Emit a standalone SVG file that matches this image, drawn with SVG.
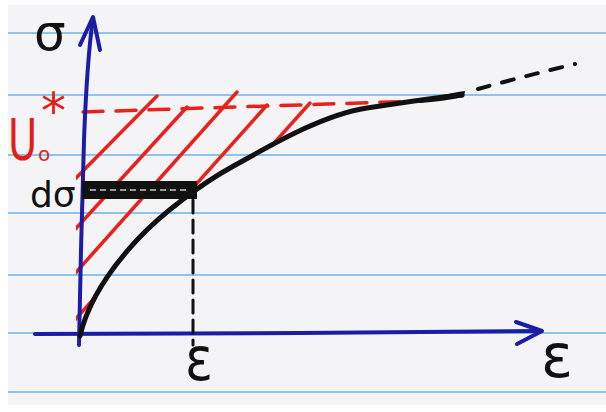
<svg xmlns="http://www.w3.org/2000/svg" width="606" height="412" viewBox="0 0 606 412">
  <defs>
    <style>
      .rule { stroke: #8ec4ec; stroke-width: 2; fill: none; }
      .axis { stroke: #1c1ca6; stroke-width: 4; fill: none; stroke-linecap: round; stroke-linejoin: round; }
      .hatch { stroke: #e8211c; stroke-width: 3.5; fill: none; stroke-linecap: round; }
      .ink { stroke: #111111; fill: none; stroke-linecap: round; stroke-linejoin: round; }
      .lbl { font-family: "DejaVu Sans", "Liberation Sans", sans-serif; fill: #111111; }
      .red { fill: #e21e1a; }
    </style>
    <clipPath id="area">
      <path d="M76,86 L470,86 L462,95 C440,97 400,103 367,108 C320,115 263,150 230,168 C203,183 162,213 137,240 C100,280 86,310 80,336 L76,336 Z"/>
    </clipPath>
  </defs>

  <!-- paper -->
  <rect x="0" y="0" width="606" height="412" fill="#ffffff"/>
  <rect x="8" y="5" width="598" height="400" fill="#f4f4f6"/>
  <g id="ruling">
    <line class="rule" x1="8" y1="33" x2="606" y2="33"/>
    <line class="rule" x1="8" y1="95" x2="606" y2="95"/>
    <line class="rule" x1="8" y1="155" x2="606" y2="155"/>
    <line class="rule" x1="8" y1="213" x2="606" y2="213"/>
    <line class="rule" x1="8" y1="275" x2="606" y2="275"/>
    <line class="rule" x1="8" y1="333" x2="606" y2="333"/>
    <line class="rule" x1="8" y1="392" x2="606" y2="392"/>
  </g>

  <!-- red hatching of the complementary energy area -->
  <g id="hatching" clip-path="url(#area)">
    <line class="hatch" x1="70" y1="184" x2="157" y2="96"/>
    <line class="hatch" x1="70" y1="235" x2="187" y2="107"/>
    <line class="hatch" x1="70" y1="279" x2="237" y2="92"/>
    <line class="hatch" x1="72" y1="323" x2="267" y2="105"/>
    <line class="hatch" x1="240" y1="181" x2="310" y2="103"/>
  </g>
  <g id="u0-line">
    <path class="hatch" d="M83,112 L420,101" stroke-width="4" stroke-dasharray="20 13"/>
  </g>

  <!-- axes -->
  <g id="axes">
    <path class="axis" d="M79,345 L81,250 L84,140 Q87,60 93,18"/>
    <polyline class="axis" points="80,45 93,17 100,50"/>
    <path class="axis" d="M35,334 L300,333 L540,331"/>
    <polyline class="axis" points="516,322 542,331 517,344"/>
  </g>

  <!-- stress-strain curve -->
  <g id="curve">
    <path class="ink" stroke-width="5" d="M80,336 C86,310 100,280 137,240 C162,213 203,183 230,168 C263,150 320,115 367,108 C400,103 440,97 462,95"/>
    <path d="M420,100 C440,96 455,92 465,91 L464,97 C450,100 435,102 420,103 Z" fill="#111111"/>
    <path class="ink" stroke-width="4" stroke-dasharray="12 13" d="M478,89 Q525,76 575,64"/>
  </g>

  <!-- d-sigma strip -->
  <g id="dsigma-strip">
    <rect x="82" y="181" width="115" height="18" fill="#111111"/>
    <line x1="90" y1="190" x2="190" y2="190" stroke="#9a9a9a" stroke-width="1.8" stroke-dasharray="6 4"/>
  </g>

  <!-- epsilon drop line -->
  <g id="eps-line">
    <path class="ink" stroke-width="3" stroke-dasharray="13 7" d="M193,200 L193,345"/>
  </g>

  <!-- labels -->
  <g id="labels">
    <text class="lbl" x="34" y="50" font-size="50">σ</text>
    <g id="u0-label">
      <text class="lbl red" font-size="40" transform="translate(8,160) scale(1,1.42)">U</text>
      <text class="lbl red" x="38" y="161" font-size="20">o</text>
      <text class="lbl red" x="41" y="128" font-size="50">*</text>
    </g>
    <text class="lbl" x="30" y="207" font-size="36">dσ</text>
    <text class="lbl" x="185" y="380" font-size="60" textLength="28" lengthAdjust="spacingAndGlyphs">ε</text>
    <text class="lbl" x="541" y="377" font-size="60" textLength="32" lengthAdjust="spacingAndGlyphs">ε</text>
  </g>
</svg>
